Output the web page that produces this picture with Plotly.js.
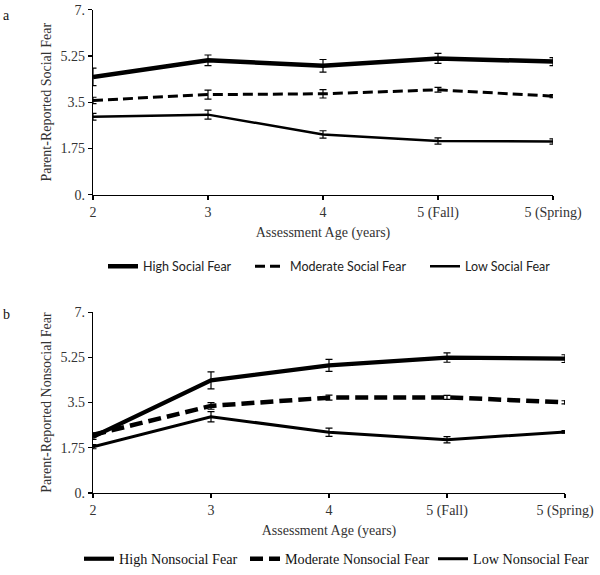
<!DOCTYPE html>
<html>
<head>
<meta charset="utf-8">
<script src="https://cdn.plot.ly/plotly-3.0.1.min.js"></script>
<style>
html,body{margin:0;padding:0;background:#fff;}
#chart{width:600px;height:575px;}
</style>
</head>
<body>
<div id="chart"></div>
<script>
// ---- data ----
var categories = ['2', '3', '4', '5 (Fall)', '5 (Spring)'];
var yTickVals = [0, 1.75, 3.5, 5.25, 7];
var yTickText = ['0.', '1.75', '3.5', '5.25', '7.'];

var socialHigh    = [4.46, 5.09, 4.88, 5.16, 5.04];
var socialHighErr = [0.33, 0.20, 0.24, 0.19, 0.15];
var socialMod     = [3.57, 3.79, 3.82, 3.97, 3.73];
var socialModErr  = [0.12, 0.17, 0.16, 0.09, 0.06];
var socialLow     = [2.95, 3.03, 2.28, 2.03, 2.01];
var socialLowErr  = [0.13, 0.17, 0.14, 0.12, 0.10];

var nonHigh    = [2.17, 4.36, 4.94, 5.24, 5.20];
var nonHighErr = [0.10, 0.33, 0.23, 0.18, 0.15];
var nonMod     = [2.25, 3.37, 3.69, 3.70, 3.51];
var nonModErr  = [0.08, 0.13, 0.10, 0.08, 0.06];
var nonLow     = [1.79, 2.95, 2.35, 2.06, 2.36];
var nonLowErr  = [0.08, 0.20, 0.16, 0.12, 0.05];

var socialNames = ['High Social Fear', 'Moderate Social Fear', 'Low Social Fear'];
var nonNames = ['High Nonsocial Fear', 'Moderate Nonsocial Fear', 'Low Nonsocial Fear'];

// ---- styles ----
var W = 600, H = 575;
var serif = 'Liberation Serif, Times New Roman, serif';
var sans = 'Lato, Carlito, sans-serif';

function tr(y, err, name, xa, ya, lw, dash, leg) {
  return {
    x: categories, y: y, name: name, type: 'scatter', mode: 'lines',
    xaxis: xa, yaxis: ya, legend: leg,
    line: {color: '#000', width: lw, dash: dash},
    error_y: {type: 'data', array: err, visible: true, color: '#000', thickness: 1.2, width: 3.5}
  };
}

var data = [
  tr(socialHigh, socialHighErr, socialNames[0], 'x', 'y', 4.5, 'solid', 'legend'),
  tr(socialMod, socialModErr, socialNames[1], 'x', 'y', 3, '10px,5px', 'legend2'),
  tr(socialLow, socialLowErr, socialNames[2], 'x', 'y', 2.5, 'solid', 'legend3'),
  tr(nonHigh, nonHighErr, nonNames[0], 'x2', 'y2', 4.2, 'solid', 'legend4'),
  tr(nonMod, nonModErr, nonNames[1], 'x2', 'y2', 4.5, '13px,6px', 'legend5'),
  tr(nonLow, nonLowErr, nonNames[2], 'x2', 'y2', 3, 'solid', 'legend6')
];

function px(v) { return v / W; }
function py(v) { return (H - v) / H; }

function xax(d, anchor) {
  return {
    domain: d, anchor: anchor, type: 'category', categoryarray: categories,
    range: [0, 4], showgrid: false, zeroline: false,
    showline: true, linecolor: '#000', linewidth: 1.3,
    ticks: 'outside', ticklen: 4, tickcolor: '#000', tickwidth: 1.2,
    tickfont: {family: serif, size: 14, color: '#333'},
    title: {text: 'Assessment Age (years)', font: {family: serif, size: 14, color: '#333'}, standoff: 7},
    fixedrange: true
  };
}
function yax(d, anchor, title) {
  return {
    domain: d, anchor: anchor, range: [0, 7], showgrid: false, zeroline: false,
    showline: true, linecolor: '#000', linewidth: 1.3,
    ticks: 'outside', ticklen: 4, tickcolor: '#000', tickwidth: 1.2,
    tickvals: yTickVals, ticktext: yTickText,
    tickfont: {family: serif, size: 14, color: '#333'},
    title: {text: title, font: {family: serif, size: 14, color: '#333'}, standoff: 5},
    fixedrange: true
  };
}
function leg(x, y, font) {
  return {x: x, y: y, xanchor: 'left', yanchor: 'middle', orientation: 'h',
          bgcolor: 'rgba(0,0,0,0)', borderwidth: 0, font: font};
}
var fa = {family: sans, size: 12.5, color: '#222'};
var fb = {family: serif, size: 14.2, color: '#111'};

var layout = {
  width: W, height: H,
  margin: {l: 0, r: 0, t: 0, b: 0},
  paper_bgcolor: '#fff', plot_bgcolor: '#fff',
  showlegend: true,
  xaxis: xax([px(93), px(553)], 'y'),
  yaxis: yax([py(197), py(10)], 'x', 'Parent-Reported Social Fear'),
  xaxis2: xax([px(93), px(565)], 'y2'),
  yaxis2: yax([py(499), py(316)], 'x2', 'Parent-Reported Nonsocial Fear'),
  legend: leg(px(103), py(270), fa),
  legend2: leg(px(250), py(270), fa),
  legend3: leg(px(425), py(270), fa),
  legend4: leg(px(79), py(566), fb),
  legend5: leg(px(245), py(566), fb),
  legend6: leg(px(433), py(566), fb),
  annotations: [
    {text: 'a', xref: 'paper', yref: 'paper', x: px(6), y: py(16), xanchor: 'center', yanchor: 'middle',
     showarrow: false, font: {family: serif, size: 14, color: '#111'}},
    {text: 'b', xref: 'paper', yref: 'paper', x: px(6), y: py(318), xanchor: 'center', yanchor: 'middle',
     showarrow: false, font: {family: serif, size: 14, color: '#111'}}
  ]
};

Plotly.newPlot('chart', data, layout, {staticPlot: true, displayModeBar: false});
</script>
</body>
</html>
